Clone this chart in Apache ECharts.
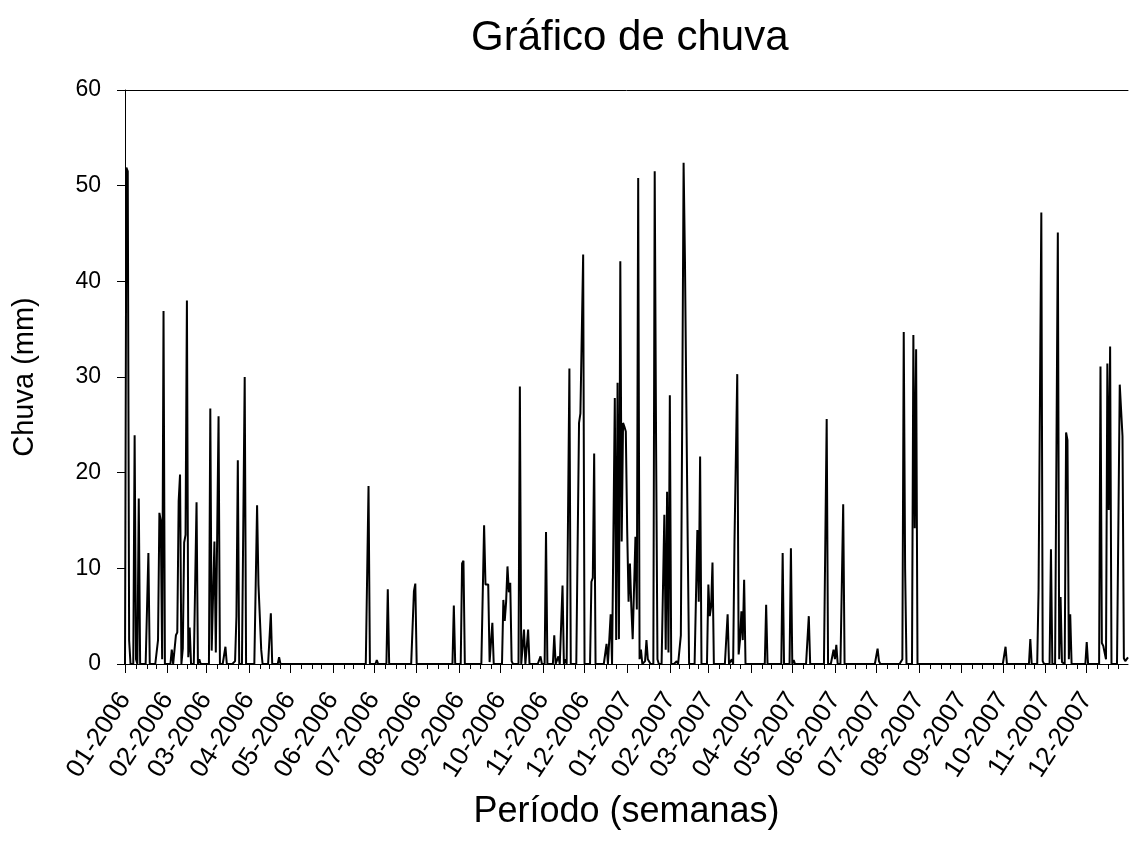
<!DOCTYPE html>
<html><head><meta charset="utf-8">
<script src="https://cdn.jsdelivr.net/npm/echarts@6/dist/echarts.min.js"></script>
<style>html,body{margin:0;padding:0;background:#fff}#c{width:1129px;height:855px}</style>
</head><body><div id="c"></div>
<script>
// Month tick labels and month lengths (2006-2007)
const monthLabels = ['01-2006','02-2006','03-2006','04-2006','05-2006','06-2006','07-2006','08-2006','09-2006','10-2006','11-2006','12-2006',
                     '01-2007','02-2007','03-2007','04-2007','05-2007','06-2007','07-2007','08-2007','09-2007','10-2007','11-2007','12-2007'];
const monthLengths = [31,28,31,30,31,30,31,31,30,31,30,31,31,28,31,30,31,30,31,31,30,31,30,31];
const yTicks = [0,10,20,30,40,50,60];

// Rainy days (day index from 01-01-2006) and rain (mm); every other day is 0 mm
const rainDays = [1,2,3,7,8,10,17,24,25,26,27,28,34,37,38,39,40,42,43,44,45,46,47,52,54,62,63,64,65,66,67,68,73,80,81,82,87,
  96,97,98,99,106,112,142,177,183,191,210,211,217,239,245,246,261,262,263,264,265,267,275,276,277,278,279,280,281,287,290,293,
  302,306,312,315,318,320,323,330,331,332,333,339,340,341,350,353,356,357,358,359,360,361,362,363,364,365,366,367,368,369,370,
  371,372,373,374,375,378,379,380,381,385,386,387,392,393,394,395,396,401,404,405,406,407,408,409,416,417,418,424,425,426,427,
  438,441,443,444,445,446,447,448,449,450,466,478,484,486,492,497,503,510,515,516,517,522,547,548,565,566,567,573,574,575,
  640,658,664,665,666,667,673,678,679,680,681,684,685,686,687,699,709,710,711,712,713,714,715,716,723,724,725,726,727,728,729];
const rainMm = [51.9,51.5,2.5,23.9,0.5,17.3,11.6,2.5,15.8,15.0,0.5,36.9,1.5,3.0,3.3,17.0,19.8,1.6,12.7,13.5,38.0,0.7,3.8,16.9,0.5,26.7,1.4,1.4,12.8,1.2,1.2,25.9,1.8,0.3,5.0,21.3,30.0,
  16.6,8.3,8.2,1.5,5.3,0.7,0.1,18.6,0.4,7.8,7.6,8.4,0.1,6.1,10.5,10.8,14.5,8.3,8.2,8.3,0.2,4.3,6.7,4.5,6.5,10.2,7.5,8.5,0.3,29.0,3.6,3.6,
  0.8,13.8,3.0,0.8,8.2,0.5,30.9,25.2,26.2,26.0,42.8,8.6,9.0,22.0,2.1,5.2,27.8,2.5,29.4,2.6,42.1,12.8,25.2,24.8,24.3,14.0,6.5,10.5,6.0,2.6,8.0,
  13.3,5.7,50.8,0.5,1.5,0.3,2.5,0.5,0.7,51.5,23.1,0.5,15.6,1.5,18.0,1.2,28.1,0.3,3.0,26.0,52.4,42.0,27.0,12.6,14.0,6.5,21.7,8.3,5.0,6.0,10.6,
  5.2,0.5,13.0,13.0,30.3,1.0,2.5,5.5,2.5,8.8,6.2,11.6,12.1,0.4,0.1,5.0,0.2,25.6,1.5,0.5,2.0,16.7,1.6,0.3,0.5,34.7,10.0,34.4,14.2,32.9,
  1.8,2.6,7.8,7.8,47.2,0.3,12.0,45.1,0.5,7.0,0.2,24.2,23.4,0.5,5.2,2.3,31.1,2.2,1.9,1.2,0.5,31.4,16.1,33.2,29.2,26.5,23.8,0.6,0.3,0.5,0.7];

// Build the daily series from the lists above
const totalDays = monthLengths.reduce((a, b) => a + b, 0);
const categories = [];
const daily = [];
for (let i = 0; i < totalDays; i++) { categories.push(String(i)); daily.push(0); }
rainDays.forEach((d, k) => { daily[d] = rainMm[k]; });

const labelAt = {};
const majorSet = new Set();
const minorSet = new Set();
let start = 0;
monthLengths.forEach((len, m) => {
  majorSet.add(start);
  labelAt[start] = monthLabels[m];
  for (let k = 1; k <= 3; k++) minorSet.add(start + Math.round(k * len / 4));
  start += len;
});

const FONT = "'Liberation Sans', Arial, sans-serif";
const chart = echarts.init(document.getElementById('c'), null, { renderer: 'canvas' });
chart.setOption({
  animation: false,
  backgroundColor: '#fff',
  title: {
    text: 'Gráfico de chuva', left: 466, top: 12,
    textStyle: { fontSize: 42, fontWeight: 'normal', color: '#000', fontFamily: FONT }
  },
  grid: { left: 125, right: 1, top: 90, bottom: 191, containLabel: false },
  xAxis: [
    {
      type: 'category', data: categories, boundaryGap: false,
      axisLine: { show: true, lineStyle: { color: '#000', width: 1 } },
      axisTick: { show: true, interval: (i) => minorSet.has(i), length: 5, lineStyle: { color: '#000' } },
      axisLabel: { show: false }, splitLine: { show: false }
    },
    {
      type: 'category', data: categories, boundaryGap: false, position: 'bottom',
      axisLine: { show: false },
      axisTick: { show: true, interval: (i) => majorSet.has(i), length: 9, lineStyle: { color: '#000' } },
      axisLabel: {
        show: true, interval: (i) => majorSet.has(i), rotate: 57, margin: 31,
        formatter: (v) => labelAt[+v] || '', fontSize: 26, color: '#000', fontFamily: FONT
      },
      splitLine: { show: false },
      name: 'Período (semanas)', nameLocation: 'middle', nameGap: 130,
      nameTextStyle: { fontSize: 36, color: '#000', fontFamily: FONT }
    },
    {
      type: 'category', data: categories, boundaryGap: false, position: 'top',
      axisLine: { show: true, lineStyle: { color: '#000', width: 1 } },
      axisTick: { show: false }, axisLabel: { show: false }, splitLine: { show: false }
    }
  ],
  yAxis: {
    type: 'value', min: yTicks[0], max: yTicks[yTicks.length - 1], interval: 10,
    axisLine: { show: true, lineStyle: { color: '#000', width: 1 } },
    axisTick: { show: true, length: 8, lineStyle: { color: '#000' } },
    splitLine: { show: false },
    axisLabel: { fontSize: 23, color: '#000', margin: 24, fontFamily: FONT },
    name: 'Chuva (mm)', nameLocation: 'middle', nameGap: 86,
    nameTextStyle: { fontSize: 29, color: '#000', fontFamily: FONT }
  },
  series: [{
    type: 'line', data: daily, xAxisIndex: 0, yAxisIndex: 0,
    symbol: 'none', showSymbol: false,
    lineStyle: { color: '#000', width: 2 }
  }]
});
</script>
</body></html>
